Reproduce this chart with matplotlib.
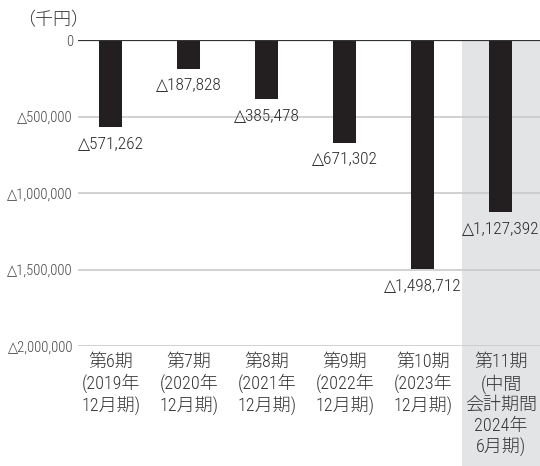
import matplotlib
matplotlib.use('Agg')
import matplotlib.pyplot as plt
from matplotlib.patches import Rectangle
from matplotlib import transforms

plt.rcParams['font.family'] = ['Roboto Condensed', 'DejaVu Sans', 'Noto Sans CJK JP']
plt.rcParams['font.stretch'] = 'condensed'
plt.rcParams['font.weight'] = 'light'

categories = ['第6期\n(2019年\n12月期)', '第7期\n(2020年\n12月期)', '第8期\n(2021年\n12月期)',
              '第9期\n(2022年\n12月期)', '第10期\n(2023年\n12月期)',
              '第11期\n(中間\n会計期間\n2024年\n6月期)']
values = [-571262, -187828, -385478, -671302, -1498712, -1127392]
yticks = [0, -500000, -1000000, -1500000, -2000000]
ytick_labels = ['0', '△500,000', '△1,000,000', '△1,500,000', '△2,000,000']

W, H = 540, 466
fig = plt.figure(figsize=(W / 100, H / 100), dpi=100)
ax = fig.add_axes([78 / W, 1 - 346 / H, 462 / W, 306 / H])

x = list(range(len(values)))
ax.set_xlim(-0.42, 5.5)
ax.set_ylim(-2000000, 0)

# highlighted interim period
trans = transforms.blended_transform_factory(ax.transData, ax.transAxes)
ax.add_patch(Rectangle((4.5, -0.4), 1.2, 1.4, transform=trans, facecolor='#e3e4e6',
                       edgecolor='none', clip_on=False, zorder=0))

for t in yticks[1:]:
    ax.axhline(t, color='#c9c9c9', lw=1.2, zorder=1)
ax.axhline(0, color='#333333', lw=1.6, zorder=3)

ax.bar(x, values, width=0.295, color='#231f20', zorder=2)

for xi, v in zip(x, values):
    ax.annotate(f'△{-v:,}', (xi, v), xytext=(0, -7), textcoords='offset points',
                ha='center', va='top', fontsize=12.5, color='#2a2a2a', annotation_clip=False)

ax.set_yticks(yticks)
ax.set_yticklabels(ytick_labels, fontsize=10.5, color='#444444')
ax.tick_params(axis='y', length=0, pad=3.6)
ax.set_xticks(x)
ax.set_xticklabels(categories, fontsize=13, color='#333333', linespacing=1.2)
ax.tick_params(axis='x', length=0, pad=5)
for s in ax.spines.values():
    s.set_visible(False)

fig.text(17 / W, 1 - 20 / H, '（千円）', fontsize=13, color='#333333', ha='left', va='center')

fig.savefig('out.png', dpi=100)
